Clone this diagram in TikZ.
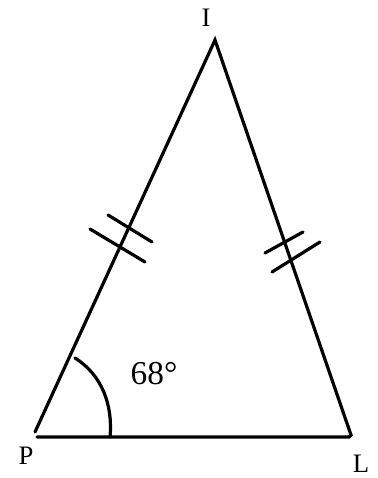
\documentclass[tikz,border=0pt]{standalone}
\usepackage{fontspec}
\setmainfont{Liberation Serif}
\begin{document}
\begin{tikzpicture}[x=0.75pt, y=-0.75pt, line width=2.4pt, line cap=round,
    vlabel/.style={font=\fontsize{20}{20}\selectfont, inner sep=0pt}]
    \useasboundingbox (0,0) rectangle (378,478);
    % vertices of the isosceles triangle
    \coordinate (Iv) at (215,40);
    \coordinate (Pv) at (35,432);
    \coordinate (Lv) at (351,435);
    \coordinate (Pb) at (37,437);
    \coordinate (Ab) at (110,437);
    \coordinate (As) at (75,358);

    \draw (Pv) -- (Iv) -- (Lv) -- (349,437) -- (Pb);

    % equal sides: double ticks
    \draw (108,215) -- (152,242);
    \draw (90,229) -- (145,262);
    \draw (265,253) -- (303,232);
    \draw (272,272) -- (320,242);

    % angle at P
    \draw (Ab) .. controls (113,405) and (102,375) .. (As);

    \node[vlabel] (labI) at (206,18) {I};
    \node[vlabel] (labP) at (26,456) {P};
    \node[vlabel] (labL) at (361,464) {L};
    \node[vlabel, font=\fontsize{25}{25}\selectfont] (ang) at (154,374) {68°};
\end{tikzpicture}
\end{document}
